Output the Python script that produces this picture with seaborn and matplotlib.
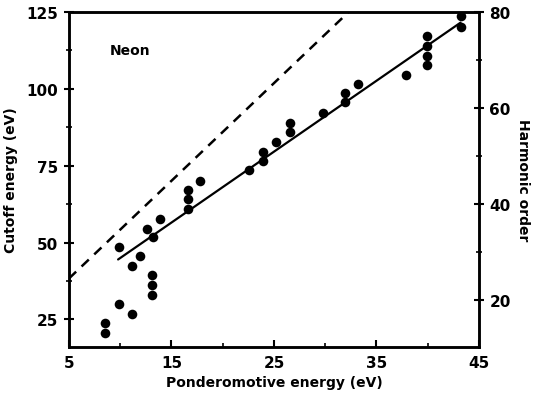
import matplotlib
matplotlib.use("Agg")
import matplotlib.pyplot as plt
import seaborn as sns
import numpy as np
import pandas as pd
from matplotlib.ticker import MultipleLocator

# Data
up = [8.5, 8.5, 9.9, 11.2, 13.1, 13.1, 13.1, 9.9, 11.2, 11.9, 12.6, 13.2, 13.9,
      16.6, 16.6, 16.6, 17.8, 22.6, 23.9, 23.9, 25.2, 26.6, 26.6, 29.8, 31.9,
      31.9, 33.2, 37.9, 39.9, 39.9, 39.9, 39.9, 43.2, 43.2]
cutoff = [23.8, 20.7, 30.1, 26.9, 39.3, 36.1, 33.1, 48.6, 42.3, 45.6, 54.5, 51.7, 57.8,
          67.2, 64.0, 60.9, 69.9, 73.5, 79.6, 76.6, 82.8, 89.0, 85.9, 92.1, 95.6,
          98.6, 101.6, 104.5, 117.0, 113.8, 110.7, 107.6, 123.5, 120.0]
fit_x = [9.8, 43.2]
fit_y = [44.5, 121.5]
theory_x = [5.0, 32.3]
theory_y = [38.3, 125.0]
x_ticks = [5, 15, 25, 35, 45]
y_ticks = [25, 50, 75, 100, 125]
h_ticks = [20, 40, 60, 80]
photon_ev = 1.5625

sns.set_style("ticks")
plt.rcParams['font.family'] = ['DejaVu Sans']
plt.rcParams['font.weight'] = 'bold'
plt.rcParams['text.color'] = 'black'
plt.rcParams['axes.labelcolor'] = 'black'
plt.rcParams['xtick.color'] = 'black'
plt.rcParams['ytick.color'] = 'black'

fig = plt.figure(figsize=(5.34, 4.02), dpi=100)
ax = fig.add_axes([0.129, 0.134, 0.768, 0.834])

df = pd.DataFrame({"up": up, "cutoff": cutoff})
sns.scatterplot(data=df, x="up", y="cutoff", ax=ax, color="black", s=48,
                edgecolor="black", linewidth=0, zorder=3)
sns.lineplot(x=fit_x, y=fit_y, ax=ax, color="black", lw=1.6)
sns.lineplot(x=theory_x, y=theory_y, ax=ax, color="black", lw=1.8,
             linestyle=(0, (4, 3)))

ymin, ymax = 16, 125
ax.set_xlim(5, 45)
ax.set_ylim(ymin, ymax)
ax.set_xticks(x_ticks)
ax.set_yticks(y_ticks)
ax.xaxis.set_minor_locator(MultipleLocator(5))
ax.yaxis.set_minor_locator(MultipleLocator(12.5))
ax.tick_params(axis='x', which='major', direction='in', length=5, width=1.5,
               labelsize=11, pad=6, top=False)
ax.tick_params(axis='x', which='minor', direction='in', length=3, width=1.2, top=False)
ax.tick_params(axis='y', which='major', direction='inout', length=7, width=1.5,
               labelsize=11, pad=4)
ax.tick_params(axis='y', which='minor', direction='inout', length=4, width=1.2)
for lab in ax.get_xticklabels() + ax.get_yticklabels():
    lab.set_fontweight('bold')

ax.set_xlabel("Ponderomotive energy (eV)", fontsize=10, fontweight='bold', labelpad=3)
ax.set_ylabel("Cutoff energy (eV)", fontsize=10, fontweight='bold', labelpad=6)

for sp in ax.spines.values():
    sp.set_visible(True)
    sp.set_linewidth(1.8)
    sp.set_color("black")

ax.text(9.0, 112.5, "Neon", fontsize=10, fontweight='bold', va='center', ha='left')

ax2 = ax.twinx()
ax2.set_ylim(ymin / photon_ev, ymax / photon_ev)
ax2.set_yticks(h_ticks)
ax2.yaxis.set_minor_locator(MultipleLocator(10))
ax2.tick_params(axis='y', which='major', direction='inout', length=7, width=1.5,
                labelsize=11, pad=4)
ax2.tick_params(axis='y', which='minor', direction='inout', length=4, width=1.2)
for lab in ax2.get_yticklabels():
    lab.set_fontweight('bold')
ax2.set_ylabel("Harmonic order", fontsize=10, fontweight='bold', rotation=-90,
               labelpad=14)
for sp in ax2.spines.values():
    sp.set_linewidth(1.8)
    sp.set_color("black")

fig.savefig("out.png", dpi=100)
